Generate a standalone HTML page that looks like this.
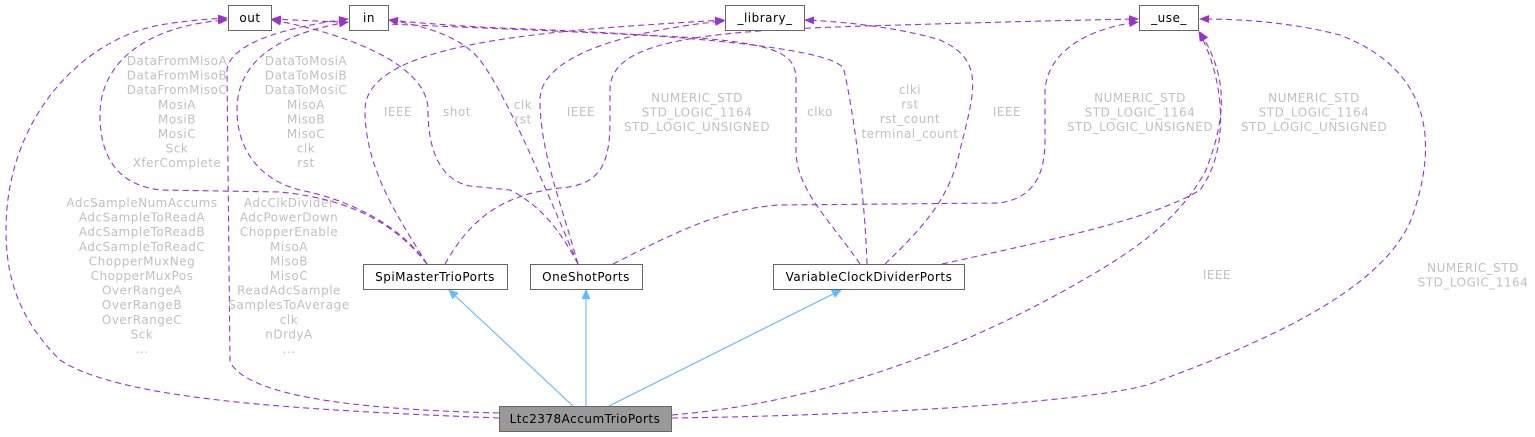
<!DOCTYPE html>
<html><head><meta charset="utf-8"><style>
html,body{margin:0;padding:0;background:#fff;}
svg{display:block;}
.n{font-family:"DejaVu Sans","Liberation Sans",sans-serif;font-size:12px;letter-spacing:0.5px;fill:#000;text-anchor:middle;}
.l{font-family:"DejaVu Sans","Liberation Sans",sans-serif;font-size:12px;letter-spacing:0.5px;fill:#c0c0c0;text-anchor:middle;}
.d{fill:none;stroke:#9a32cd;stroke-width:1.1;stroke-dasharray:6,4;}
.i{fill:none;stroke:#63b8ff;stroke-width:1.1;}
</style></head><body>
<svg width="1535" height="437" viewBox="0 0 1535 437" xmlns="http://www.w3.org/2000/svg">
<defs>
<marker id="pa" markerWidth="10" markerHeight="8" refX="9" refY="4" orient="auto" markerUnits="userSpaceOnUse"><path d="M0,0 L10,4 L0,8 z" fill="#9a32cd"/></marker>
<marker id="ba" markerWidth="10" markerHeight="9" refX="9" refY="4.5" orient="auto" markerUnits="userSpaceOnUse"><path d="M0,0 L10,4.5 L0,9 z" fill="#63b8ff"/></marker>
</defs>

<!-- Ltc edges -->
<path class="d" marker-end="url(#pa)" d="M499,418 C300,410 120,400 60,360 C20,320 6,280 6,230 C6,120 80,40 160,25 C190,20 210,19 227,18"/>
<path class="d" marker-end="url(#pa)" d="M499,413 C380,410 250,400 230,362 L227,70 C230,40 300,25 348,19"/>
<path class="d" marker-end="url(#pa)" d="M672,418 C900,415 1100,400 1150,384 C1300,330 1385,280 1411,220 C1440,140 1430,70 1340,35 C1290,22 1240,19 1200,19"/>
<path class="d" marker-end="url(#pa)" d="M672,415 C850,400 1000,330 1100,270 C1150,240 1185,210 1206,170 C1225,120 1230,80 1200,32"/>

<!-- Spi edges -->
<path class="d" marker-end="url(#pa)" d="M427,264 C400,230 360,200 280,192 L160,190 C120,185 100,160 100,115 C100,60 150,25 227,20"/>
<path class="d" marker-end="url(#pa)" d="M427,264 C400,225 350,200 300,190 C260,180 237,150 237,110 C237,50 300,30 348,22"/>
<path class="d" marker-end="url(#pa)" d="M427,264 C400,220 365,170 365,110 C365,40 560,30 724,20"/>
<path class="d" marker-end="url(#pa)" d="M445,264 C470,220 500,195 560,188 C600,185 610,165 610,120 L610,90 C610,40 700,30 900,25 C1000,22 1080,20 1138,19"/>

<!-- OneShot edges -->
<path class="d" marker-end="url(#pa)" d="M578,264 C560,230 540,205 510,190 L470,186 C440,180 428,150 428,110 C428,60 330,30 272,20"/>
<path class="d" marker-end="url(#pa)" d="M578,264 C550,200 510,100 480,60 C460,35 420,25 389,20"/>
<path class="d" marker-end="url(#pa)" d="M578,264 C560,200 540,150 540,100 C540,50 650,28 724,21"/>
<path class="d" marker-end="url(#pa)" d="M613,264 C680,230 720,210 778,205 L1000,203 C1030,198 1045,180 1045,140 L1045,90 C1048,50 1090,28 1138,22"/>

<!-- VCD edges -->
<path class="d" marker-end="url(#pa)" d="M860,264 C830,220 796,190 796,150 L796,80 C796,55 780,45 700,38 C550,30 400,25 272,19"/>
<path class="d" marker-end="url(#pa)" d="M867,264 C865,200 855,120 844,70 C840,50 700,35 500,28 C440,25 410,22 389,20"/>
<path class="d" marker-end="url(#pa)" d="M885,264 C920,230 950,200 960,150 C975,90 985,60 940,40 C900,28 850,22 805,20"/>
<path class="d" marker-end="url(#pa)" d="M942,264 C1050,240 1150,220 1200,190 C1230,150 1225,80 1199,32"/>

<!-- inheritance -->
<line class="i" x1="573" y1="406" x2="449" y2="290" marker-end="url(#ba)"/>
<line class="i" x1="586" y1="406" x2="586" y2="290" marker-end="url(#ba)"/>
<line class="i" x1="609" y1="406" x2="841" y2="290" marker-end="url(#ba)"/>

<!-- nodes -->
<rect x="228.5" y="5.5" width="43" height="25" fill="#fff" stroke="#666"/>
<text class="n" x="250" y="22">out</text>
<rect x="349.5" y="5.5" width="39" height="25" fill="#fff" stroke="#666"/>
<text class="n" x="369" y="22">in</text>
<rect x="725.5" y="5.5" width="79" height="25" fill="#fff" stroke="#666"/>
<text class="n" x="765" y="22">_library_</text>
<rect x="1139.5" y="5.5" width="59" height="25" fill="#fff" stroke="#666"/>
<text class="n" x="1169" y="22">_use_</text>
<rect x="363.5" y="264.5" width="144" height="25" fill="#fff" stroke="#666"/>
<text class="n" x="435" y="281">SpiMasterTrioPorts</text>
<rect x="530.5" y="264.5" width="112" height="25" fill="#fff" stroke="#666"/>
<text class="n" x="586" y="281">OneShotPorts</text>
<rect x="773.5" y="264.5" width="191" height="25" fill="#fff" stroke="#666"/>
<text class="n" x="869" y="281">VariableClockDividerPorts</text>
<rect x="499.5" y="406.5" width="172" height="25" fill="#999" stroke="#666"/>
<text class="n" x="585" y="423">Ltc2378AccumTrioPorts</text>

<!-- labels -->
<text class="l" x="177" y="65"><tspan x="177">DataFromMisoA</tspan><tspan x="177" dy="14.6">DataFromMisoB</tspan><tspan x="177" dy="14.6">DataFromMisoC</tspan><tspan x="177" dy="14.6">MosiA</tspan><tspan x="177" dy="14.6">MosiB</tspan><tspan x="177" dy="14.6">MosiC</tspan><tspan x="177" dy="14.6">Sck</tspan><tspan x="177" dy="14.6">XferComplete</tspan></text>
<text class="l" x="306" y="65"><tspan x="306">DataToMosiA</tspan><tspan x="306" dy="14.6">DataToMosiB</tspan><tspan x="306" dy="14.6">DataToMosiC</tspan><tspan x="306" dy="14.6">MisoA</tspan><tspan x="306" dy="14.6">MisoB</tspan><tspan x="306" dy="14.6">MisoC</tspan><tspan x="306" dy="14.6">clk</tspan><tspan x="306" dy="14.6">rst</tspan></text>
<text class="l" x="398" y="116">IEEE</text>
<text class="l" x="457" y="116">shot</text>
<text class="l" x="523" y="109"><tspan x="523">clk</tspan><tspan x="523" dy="14.6">rst</tspan></text>
<text class="l" x="581" y="116">IEEE</text>
<text class="l" x="697" y="102"><tspan x="697">NUMERIC_STD</tspan><tspan x="697" dy="14.6">STD_LOGIC_1164</tspan><tspan x="697" dy="14.6">STD_LOGIC_UNSIGNED</tspan></text>
<text class="l" x="820" y="116">clko</text>
<text class="l" x="910" y="94"><tspan x="910">clki</tspan><tspan x="910" dy="14.6">rst</tspan><tspan x="910" dy="14.6">rst_count</tspan><tspan x="910" dy="14.6">terminal_count</tspan></text>
<text class="l" x="1007" y="116">IEEE</text>
<text class="l" x="1140" y="102"><tspan x="1140">NUMERIC_STD</tspan><tspan x="1140" dy="14.6">STD_LOGIC_1164</tspan><tspan x="1140" dy="14.6">STD_LOGIC_UNSIGNED</tspan></text>
<text class="l" x="1314" y="102"><tspan x="1314">NUMERIC_STD</tspan><tspan x="1314" dy="14.6">STD_LOGIC_1164</tspan><tspan x="1314" dy="14.6">STD_LOGIC_UNSIGNED</tspan></text>
<text class="l" x="1217" y="279">IEEE</text>
<text class="l" x="1473" y="272"><tspan x="1473">NUMERIC_STD</tspan><tspan x="1473" dy="14.6">STD_LOGIC_1164</tspan></text>
<text class="l" x="142" y="207"><tspan x="142">AdcSampleNumAccums</tspan><tspan x="142" dy="14.6">AdcSampleToReadA</tspan><tspan x="142" dy="14.6">AdcSampleToReadB</tspan><tspan x="142" dy="14.6">AdcSampleToReadC</tspan><tspan x="142" dy="14.6">ChopperMuxNeg</tspan><tspan x="142" dy="14.6">ChopperMuxPos</tspan><tspan x="142" dy="14.6">OverRangeA</tspan><tspan x="142" dy="14.6">OverRangeB</tspan><tspan x="142" dy="14.6">OverRangeC</tspan><tspan x="142" dy="14.6">Sck</tspan><tspan x="142" dy="14.6">...</tspan></text>
<text class="l" x="289" y="207"><tspan x="289">AdcClkDivider</tspan><tspan x="289" dy="14.6">AdcPowerDown</tspan><tspan x="289" dy="14.6">ChopperEnable</tspan><tspan x="289" dy="14.6">MisoA</tspan><tspan x="289" dy="14.6">MisoB</tspan><tspan x="289" dy="14.6">MisoC</tspan><tspan x="289" dy="14.6">ReadAdcSample</tspan><tspan x="289" dy="14.6">SamplesToAverage</tspan><tspan x="289" dy="14.6">clk</tspan><tspan x="289" dy="14.6">nDrdyA</tspan><tspan x="289" dy="14.6">...</tspan></text>
</svg>
</body></html>
